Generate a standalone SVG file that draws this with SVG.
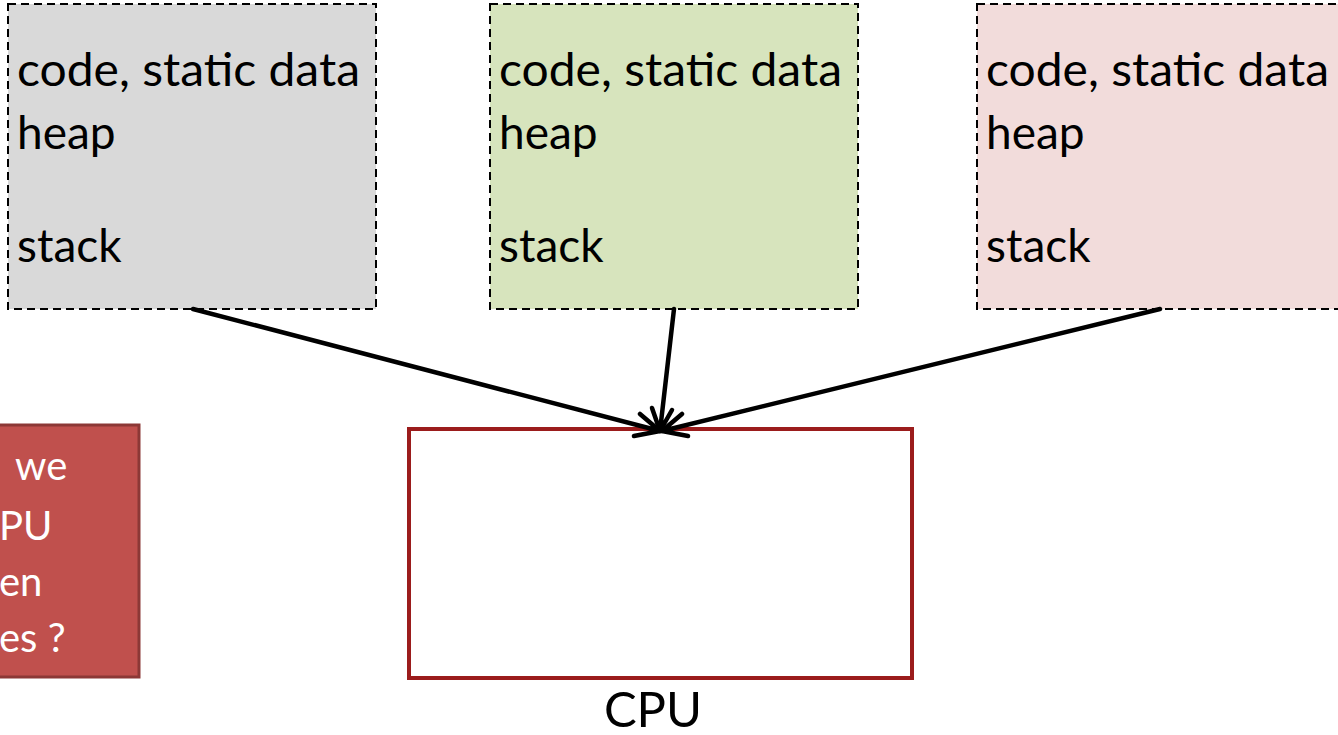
<svg xmlns="http://www.w3.org/2000/svg" width="1338" height="735" viewBox="0 0 1338 735">
<defs>
<style>
.mem{stroke:#000;stroke-width:2;stroke-dasharray:8,5}
.t{font-family:Lato,"Open Sans",sans-serif;font-size:46px;fill:#000}
.w{font-family:Lato,"Open Sans",sans-serif;font-size:40px;fill:#fff}
.c{stroke:#000;stroke-width:4.5;fill:none;stroke-linecap:round}
</style>
</defs>
<rect width="1338" height="735" fill="#fff"/>
<g id="proc1">
<rect class="mem" x="8" y="4" width="368" height="305" fill="#d9d9d9"/>
<text class="t" x="17" y="86" textLength="343" lengthAdjust="spacingAndGlyphs">code, static data</text>
<text class="t" x="17" y="149">heap</text>
<text class="t" x="17" y="262">stack</text>
</g>
<g id="proc2">
<rect class="mem" x="490" y="4" width="368" height="305" fill="#d7e4bd"/>
<text class="t" x="499" y="86" textLength="343" lengthAdjust="spacingAndGlyphs">code, static data</text>
<text class="t" x="499" y="149">heap</text>
<text class="t" x="499" y="262">stack</text>
</g>
<g id="proc3">
<rect class="mem" x="977" y="4" width="368" height="305" fill="#f2dcdb"/>
<text class="t" x="986" y="86" textLength="343" lengthAdjust="spacingAndGlyphs">code, static data</text>
<text class="t" x="986" y="149">heap</text>
<text class="t" x="986" y="262">stack</text>
</g>
<g id="question">
<rect x="-10" y="425" width="149" height="252" fill="#c0504d" stroke="#8c3836" stroke-width="3"/>
<text class="w" x="15" y="480">we</text>
<text class="w" x="-1" y="540">PU</text>
<text class="w" x="-1" y="596">en</text>
<text class="w" x="-1" y="652">es ?</text>
</g>
<g id="cpu">
<rect x="409" y="429" width="503" height="249" fill="#fff" stroke="#9b1c1c" stroke-width="4"/>
<text x="653" y="727" text-anchor="middle" style="font-family:Lato,'Open Sans',sans-serif;font-size:49px;fill:#000">CPU</text>
</g>
<g id="connectors">
<path class="c" d="M193,309 L660,431 M640,414 L660,431 M634,436 L660,431"/>
<path class="c" d="M674,309 L660,431 M652,408 L660,431 M672,410 L660,431"/>
<path class="c" d="M1160,309 L662,431 M688,436 L662,431 M682,414 L662,431"/>
</g>
</svg>
